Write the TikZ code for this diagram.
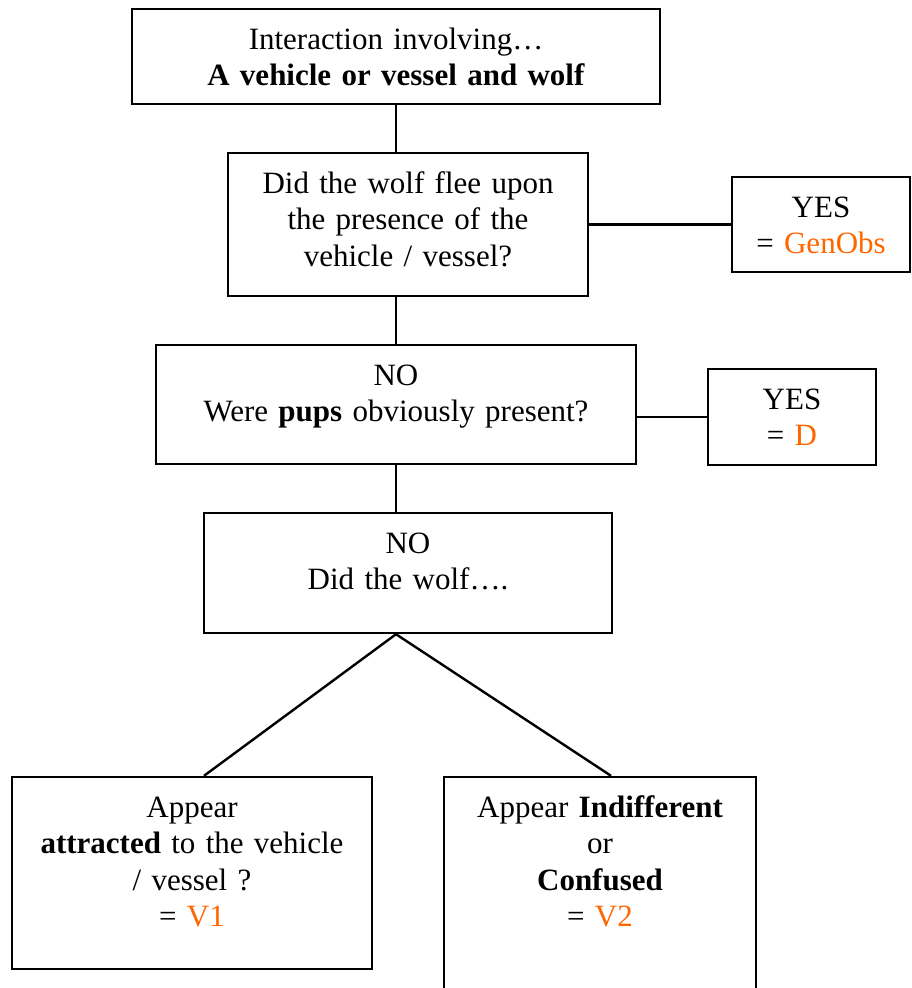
\documentclass[tikz,border=0pt]{standalone}
\usepackage{fontspec}
\setmainfont{Liberation Serif}
\definecolor{orng}{HTML}{FF6600}
\begin{document}
\begin{tikzpicture}[x=1pt,y=-1pt,line width=2.4pt,
  box/.style={draw,inner sep=0pt,align=center,text height=40pt,font=\fontsize{31}{36.5}\selectfont}]
\useasboundingbox (0,0) rectangle (912,988);
\node[box,text width=528pt,text depth=55pt] (start) at (396,56.5) {Interaction involving…\\\textbf{A vehicle or vessel and wolf}};
\node[box,text width=360pt,text depth=103pt] (flee) at (408,224.5) {Did the wolf flee upon\\the presence of the\\vehicle / vessel?};
\node[box,text width=178pt,text depth=55pt] (yesobs) at (821,224.5) {YES\\= \textcolor{orng}{GenObs}};
\node[box,text width=480pt,text depth=79pt] (pups) at (396,404.5) {NO\\Were \textbf{pups} obviously present?};
\node[box,text width=168pt,text depth=56pt] (yesd) at (792,417) {YES\\= \textcolor{orng}{D}};
\node[box,text width=408pt,text depth=80pt] (didwolf) at (408,573) {NO\\Did the wolf….};
\node[box,text width=360pt,text depth=152pt] (attr) at (192,873) {Appear\\\textbf{attracted} to the vehicle\\/ vessel ?\\= \textcolor{orng}{V1}};
\node[box,text width=312pt,text depth=193pt] (indiff) at (600,893.5) {Appear \textbf{Indifferent}\\or\\\textbf{Confused}\\= \textcolor{orng}{V2}};
\coordinate (fork) at (pups.south |- didwolf.south);
\draw (start.south) -- (start.south |- flee.north);
\draw (flee.east) -- (yesobs.west);
\draw (pups.north) -- (pups.north |- flee.south);
\draw (pups.east |- yesd.west) -- (yesd.west);
\draw (pups.south) -- (pups.south |- didwolf.north);
\draw ([xshift=12pt]attr.north) -- (fork) -- ([xshift=11pt]indiff.north);
\end{tikzpicture}
\end{document}
